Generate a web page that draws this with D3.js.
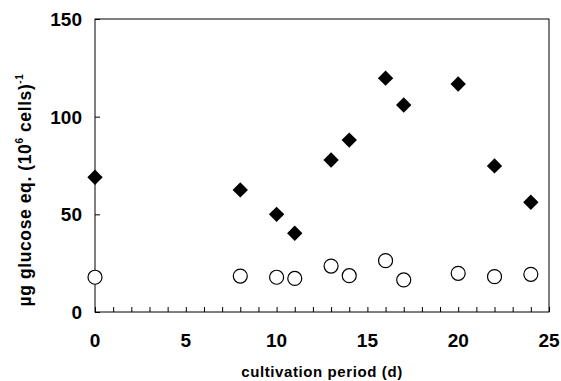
<!DOCTYPE html>
<html>
<head>
<meta charset="utf-8">
<script src="https://cdn.jsdelivr.net/npm/d3@7"></script>
<style>
  body { margin: 0; background: #fff; }
  text { font-family: "Liberation Sans", Arial, sans-serif; font-weight: bold; fill: #000; }
</style>
</head>
<body>
<div id="chart-area"></div>
<script>
const days = [0, 8, 10, 11, 13, 14, 16, 17, 20, 22, 24];
const filled = [69, 62.5, 50, 40.3, 77.8, 88, 119.7, 106, 116.7, 74.8, 56.2];
const open = [17.8, 18.4, 17.8, 17.2, 23.5, 18.6, 26.3, 16.4, 19.8, 18.1, 19.3];
const xTicks = [0, 5, 10, 15, 20, 25];
const yTicks = [0, 50, 100, 150];

const width = 561, height = 381;
const margin = {top: 19, right: 12, bottom: 69, left: 95};

const svg = d3.select("#chart-area").append("svg")
    .attr("width", width)
    .attr("height", height);

const x = d3.scaleLinear().domain([0, 25]).range([margin.left, width - margin.right]);
const y = d3.scaleLinear().domain([0, 150]).range([height - margin.bottom, margin.top]);

// frame
svg.append("rect")
    .attr("x", x(0)).attr("y", y(150))
    .attr("width", x(25) - x(0)).attr("height", y(0) - y(150))
    .attr("fill", "none").attr("stroke", "#000").attr("stroke-width", 1);

// x axis: inward minor ticks every day
svg.append("g")
    .attr("transform", `translate(0,${y(0)})`)
    .call(d3.axisBottom(x).tickValues(d3.range(0, 26)).tickSize(-5).tickFormat(""))
    .call(g => g.select(".domain").remove());

svg.append("g")
    .selectAll("text")
    .data(xTicks)
    .enter().append("text")
    .attr("x", d => x(d))
    .attr("y", y(0) + 35)
    .attr("text-anchor", "middle")
    .style("font-size", "19px")
    .text(d => d);

// y axis
svg.append("g")
    .attr("transform", `translate(${x(0)},0)`)
    .call(d3.axisLeft(y).tickValues(yTicks).tickSize(-5).tickFormat(""))
    .call(g => g.select(".domain").remove());

svg.append("g")
    .selectAll("text")
    .data(yTicks)
    .enter().append("text")
    .attr("x", x(0) - 13)
    .attr("y", d => y(d) + 7)
    .attr("text-anchor", "end")
    .style("font-size", "19px")
    .text(d => d);

// axis titles
svg.append("text")
    .attr("x", (x(0) + x(25)) / 2)
    .attr("y", 377)
    .attr("text-anchor", "middle")
    .style("font-size", "15px")
    .style("letter-spacing", "0.6px")
    .text("cultivation period (d)");

const yt = svg.append("text")
    .attr("transform", `translate(31,190) rotate(-90)`)
    .attr("text-anchor", "middle")
    .style("font-size", "17.5px")
    .style("letter-spacing", "0.6px");
yt.append("tspan").text("µg glucose eq. (10");
yt.append("tspan").attr("dy", -8).style("font-size", "10px").text("6");
yt.append("tspan").attr("dy", 8).text(" cells)");
yt.append("tspan").attr("dy", -8).style("font-size", "10px").text("-1");

// open circles
svg.append("g")
    .selectAll("circle")
    .data(days)
    .enter().append("circle")
    .attr("cx", d => x(d))
    .attr("cy", (d, i) => y(open[i]))
    .attr("r", 7)
    .attr("fill", "#fff")
    .attr("stroke", "#000")
    .attr("stroke-width", 1.2);

// filled diamonds
const diamond = d3.symbol().type(d3.symbolSquare).size(118);
svg.append("g")
    .selectAll("path")
    .data(days)
    .enter().append("path")
    .attr("d", diamond)
    .attr("transform", (d, i) => `translate(${x(d)},${y(filled[i])}) rotate(45)`)
    .attr("fill", "#000");
</script>
</body>
</html>
